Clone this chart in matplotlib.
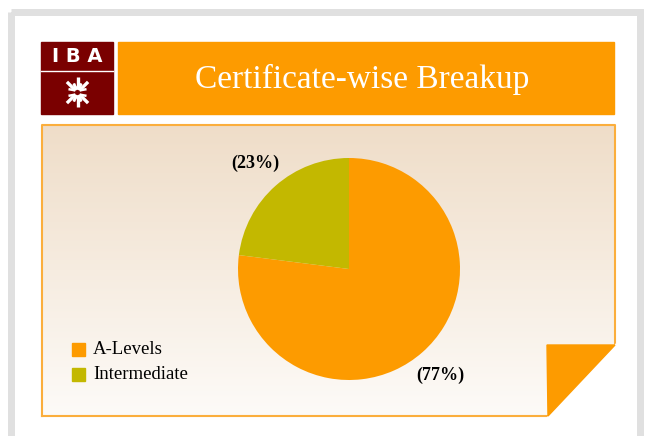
import numpy as np
import matplotlib.pyplot as plt
from matplotlib.patches import Rectangle, Polygon

# chart data
labels = ['A-Levels', 'Intermediate']
shares = [77, 23]
colors = ['#FD9B00', '#C3B800']
title = 'Certificate-wise Breakup'

W, H = 645, 436
fig = plt.figure(figsize=(W / 100, H / 100), dpi=100)
bg = fig.add_axes([0, 0, 1, 1])
bg.set_xlim(0, W)
bg.set_ylim(H, 0)
bg.axis('off')

# outer gray frame
bg.add_patch(Rectangle((0, 0), W, H, color='white', zorder=0))
bg.add_patch(Rectangle((10.5, 12.5), 629.5, 440, fill=False, ec='#E0E0E0', lw=5, zorder=1))

# logo
bg.add_patch(Rectangle((41, 42), 72, 72, color='#7A0000', zorder=2))
bg.plot([41, 113], [71, 71], color='white', lw=1, zorder=3)
bg.text(77, 57, 'I B A', color='white', fontsize=14, fontweight='bold',
        ha='center', va='center', family='DejaVu Sans', zorder=3)
cx, cy = 77.5, 92.5
for ang in (45, 90, 135, 225, 270, 315):
    a = np.radians(ang)
    dx, dy = np.cos(a), -np.sin(a)
    bg.plot([cx + 3 * dx, cx + 15 * dx], [cy + 3 * dy, cy + 15 * dy],
            color='white', lw=2.4, solid_capstyle='butt', zorder=3)
    for off in (-35, 35):
        b = np.radians(ang + off)
        bg.plot([cx + 3 * dx, cx + 3 * dx + 7 * np.cos(b)],
                [cy + 3 * dy, cy + 3 * dy - 7 * np.sin(b)],
                color='white', lw=1.8, solid_capstyle='butt', zorder=3)

# title bar
bg.add_patch(Rectangle((118, 42), 496, 72, color='#FD9B00', zorder=2))
bg.text(362, 79, title, color='white', fontsize=24, ha='center', va='center',
        family='Liberation Serif', zorder=3)

# panel with gradient
x0p, y0p, x1p, y1p = 42, 125, 615, 416
grad = np.linspace(0, 1, 256).reshape(-1, 1)
top = np.array([239, 221, 200]) / 255
bot = np.array([253, 251, 248]) / 255
img = top + (bot - top) * grad[..., None]
bg.imshow(img, extent=(x0p, x1p, y1p, y0p), aspect='auto', zorder=1)
bg.set_xlim(0, W)
bg.set_ylim(H, 0)
fx, fy = 547, 345
bg.plot([x0p, x0p, x1p, x1p], [y1p, y0p, y0p, fy], color='#FBAE3C', lw=1.5, zorder=2)
bg.plot([x0p, fx + 1], [y1p, y1p], color='#FBAE3C', lw=1.5, zorder=2)
# folded corner
bg.add_patch(Polygon([(fx, y1p + 2), (x1p + 1, fy - 1), (x1p + 2, y1p + 2)], color='white', zorder=3))
bg.add_patch(Polygon([(fx, fy), (x1p, fy), (fx + 1, y1p)], color='#FD9B00', zorder=4))

# pie
pcx, pcy, r = 349, 269, 111
pax = fig.add_axes([(pcx - r) / W, (H - pcy - r) / H, 2 * r / W, 2 * r / H])
pax.pie(shares, colors=colors, startangle=90, counterclock=False,
        wedgeprops=dict(linewidth=0))
pax.set_xlim(-1, 1)
pax.set_ylim(-1, 1)
pax.axis('off')

# percentage labels
bg.text(255, 163, '(%d%%)' % shares[1], fontsize=13, fontweight='bold',
        family='Liberation Serif', ha='center', va='center', zorder=5)
bg.text(440, 375, '(%d%%)' % shares[0], fontsize=13, fontweight='bold',
        family='Liberation Serif', ha='center', va='center', zorder=5)

# legend
for i, (lab, col) in enumerate(zip(labels, colors)):
    yy = 349 + i * 25
    bg.add_patch(Rectangle((72, yy - 6.5), 13, 13, color=col, zorder=5))
    bg.text(93, yy, lab, fontsize=13.5, family='Liberation Serif',
            ha='left', va='center', zorder=5)

fig.savefig('out.png', dpi=100)
